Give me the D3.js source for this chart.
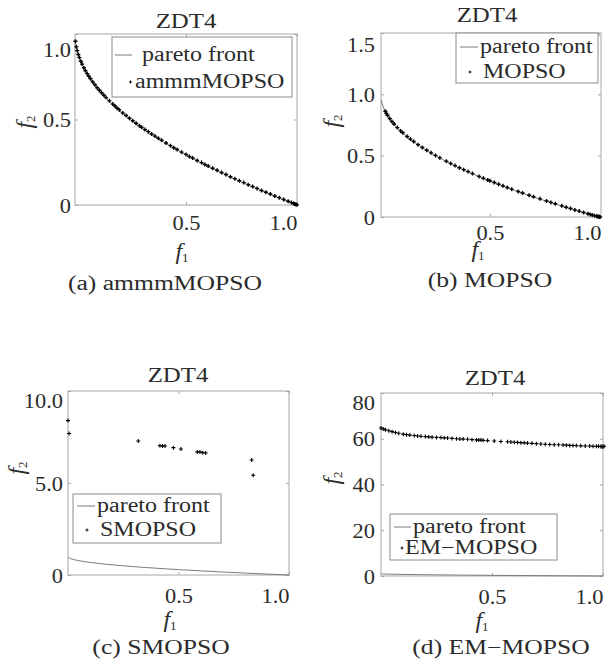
<!DOCTYPE html>
<html>
<head>
<meta charset="utf-8">
<script src="https://cdn.jsdelivr.net/npm/d3@7"></script>
<style>
  body { margin: 0; background: #fff; }
  text { font-family: "Liberation Serif", "Times New Roman", serif; fill: #2b2b2b; }
</style>
</head>
<body>
<script>
// ZDT4 true pareto front (sampled)
const frontF1 = [0.002, 0.005, 0.01, 0.02, 0.03, 0.05, 0.07, 0.1, 0.13, 0.17, 0.2, 0.25, 0.3, 0.35, 0.4, 0.45, 0.5, 0.6, 0.7, 0.8, 0.9, 1.0];
const frontF2 = [0.955, 0.929, 0.900, 0.859, 0.827, 0.776, 0.735, 0.684, 0.639, 0.588, 0.553, 0.500, 0.452, 0.408, 0.368, 0.329, 0.293, 0.225, 0.163, 0.106, 0.051, 0.0];

// (a) ammmMOPSO
const ammmF1 = [0.002,0.006,0.010,0.015,0.020,0.026,0.032,0.040,0.047,0.055,0.062,0.070,0.080,0.090,0.100,0.110,0.120,0.130,0.140,0.155,0.170,0.180,0.190,0.200,0.215,0.230,0.245,0.260,0.275,0.290,0.300,0.315,0.330,0.345,0.360,0.375,0.390,0.410,0.430,0.445,0.460,0.480,0.500,0.515,0.530,0.550,0.570,0.585,0.600,0.620,0.640,0.660,0.680,0.700,0.720,0.740,0.760,0.780,0.800,0.820,0.840,0.860,0.880,0.900,0.920,0.940,0.960,0.975,0.985,0.990,0.995,1.000];
const ammmF2 = [0.958,0.925,0.903,0.880,0.862,0.841,0.824,0.803,0.785,0.768,0.753,0.738,0.719,0.703,0.686,0.671,0.656,0.642,0.628,0.609,0.590,0.579,0.566,0.556,0.538,0.523,0.507,0.493,0.478,0.464,0.455,0.441,0.429,0.415,0.403,0.390,0.379,0.363,0.347,0.335,0.325,0.309,0.296,0.284,0.275,0.260,0.248,0.237,0.228,0.215,0.203,0.190,0.178,0.165,0.154,0.142,0.131,0.119,0.108,0.097,0.085,0.075,0.064,0.053,0.043,0.032,0.022,0.014,0.009,0.006,0.003,0.001];

// (b) MOPSO
const mopsoF1 = [0.020,0.025,0.030,0.040,0.050,0.060,0.075,0.090,0.100,0.120,0.135,0.150,0.170,0.190,0.210,0.230,0.250,0.270,0.300,0.320,0.340,0.360,0.380,0.400,0.420,0.450,0.470,0.490,0.500,0.520,0.540,0.560,0.580,0.600,0.630,0.650,0.680,0.700,0.730,0.760,0.780,0.800,0.830,0.850,0.870,0.890,0.910,0.930,0.950,0.960,0.970,0.980,0.990,1.000,0.995,1.003,1.006];
const mopsoF2 = [0.862,0.845,0.829,0.803,0.778,0.758,0.729,0.702,0.687,0.656,0.635,0.616,0.590,0.567,0.544,0.523,0.502,0.482,0.455,0.436,0.419,0.402,0.386,0.370,0.354,0.331,0.316,0.302,0.295,0.281,0.267,0.254,0.240,0.227,0.208,0.196,0.177,0.165,0.148,0.130,0.119,0.108,0.091,0.080,0.069,0.058,0.048,0.037,0.026,0.021,0.016,0.011,0.006,0.002,0.004,0.001,0.000];

// (c) SMOPSO
const smopsoF1 = [0.000,0.005,0.318,0.416,0.428,0.439,0.477,0.511,0.585,0.597,0.610,0.623,0.831,0.838];
const smopsoF2 = [8.39,7.69,7.28,7.03,7.01,7.01,6.92,6.85,6.69,6.69,6.65,6.63,6.25,5.42];

// (d) EM-MOPSO
const emF1 = [0.0,0.01,0.02,0.035,0.05,0.065,0.08,0.1,0.115,0.13,0.15,0.165,0.18,0.2,0.215,0.23,0.25,0.27,0.285,0.3,0.32,0.34,0.355,0.37,0.39,0.41,0.43,0.44,0.45,0.46,0.48,0.51,0.54,0.57,0.585,0.6,0.615,0.63,0.645,0.66,0.68,0.7,0.72,0.74,0.76,0.78,0.8,0.82,0.835,0.85,0.865,0.88,0.9,0.92,0.94,0.955,0.97,0.98,0.99,0.995,1.0,1.005];
const emF2 = [64.7,64.3,63.9,63.5,63.1,62.7,62.4,62.0,61.8,61.6,61.4,61.2,61.1,60.95,60.8,60.7,60.6,60.5,60.4,60.3,60.15,60.0,59.9,59.85,59.75,59.6,59.5,59.45,59.4,59.3,59.2,59.0,58.8,58.7,58.6,58.5,58.4,58.3,58.2,58.1,58.0,57.85,57.7,57.6,57.5,57.4,57.35,57.25,57.2,57.1,57.05,57.0,56.9,56.85,56.8,56.75,56.7,56.7,56.6,56.6,56.5,56.7];

// Names and ticks
const problem = "ZDT4";
const algorithms = ["ammmMOPSO", "MOPSO", "SMOPSO", "EM\u2212MOPSO"];
const panelLetters = ["a", "b", "c", "d"];
const xTicks = [0.5, 1.0];
const yTicksA = [0, 0.5, 1.0];
const yTicksB = [0, 0.5, 1.0, 1.5];
const yTicksC = [0, 5, 10];
const yTicksD = [0, 20, 40, 60, 80];
const xMaxes = [1.0, 1.01, 1.0, 1.0];
const yMaxes = [1.0, 1.5, 10, 80];

// Layout of each panel (pixels)
const fmtDec = (d) => (d === 0 ? "0" : d3.format(".1f")(d));
const fmtInt = d3.format("d");
const panels = [
    { f1: ammmF1, f2: ammmF2, yTicks: yTicksA, yFmt: fmtDec,
      box: [75, 34, 297, 205], title: [186, 28], xLab: 230, f1Lab: [182, 259], cap: [165, 290],
      yLabEnd: 71, f2Lab: [24, 122], topShift: 15,
      leg: { box: [112, 37, 292, 97], r1: 55, line: [115, 132], t1: 142, r2: 82, mk: 130.5, t2: 135 } },
    { f1: mopsoF1, f2: mopsoF2, yTicks: yTicksB, yFmt: fmtDec,
      box: [381, 33, 601, 217], title: [487, 22], xLab: 240, f1Lab: [478, 257], cap: [490, 287],
      yLabEnd: 375, f2Lab: [331, 121], topShift: 11,
      leg: { box: [456, 33, 598, 83], r1: 47, line: [460, 478], t1: 480, r2: 72, mk: 470, t2: 483 } },
    { f1: smopsoF1, f2: smopsoF2, yTicks: yTicksC, yFmt: fmtDec,
      box: [68, 391, 289, 575], title: [178, 382], xLab: 603, f1Lab: [170, 627], cap: [161, 654],
      yLabEnd: 63, f2Lab: [16, 468], topShift: 9,
      leg: { box: [73, 494, 221, 543], r1: 506, line: [77, 95], t1: 97, r2: 530, mk: 87, t2: 100 } },
    { f1: emF1, f2: emF2, yTicks: yTicksD, yFmt: fmtInt,
      box: [381, 393, 603, 576], title: [495, 385], xLab: 604, f1Lab: [482, 628], cap: [501, 654],
      yLabEnd: 375, f2Lab: [331, 478], topShift: 9,
      leg: { box: [390, 514, 557, 560], r1: 527, line: [394, 411], t1: 413, r2: 548, mk: 402, t2: 405 } }
];

// Stretch text horizontally (reference font is wide)
function widen(sel, k) {
    sel.each(function () {
        const w = this.getComputedTextLength();
        d3.select(this).attr("textLength", w * k).attr("lengthAdjust", "spacingAndGlyphs");
    });
}

const plus = "M-2,0H2M0,-2V2";
const boxColor = "#a6a6a6";

const svg = d3.select("body").append("svg")
    .attr("width", 616)
    .attr("height", 669);

panels.forEach((p, i) => {
    const [x0, y0, x1, y1] = p.box;
    const x = d3.scaleLinear().domain([0, xMaxes[i]]).range([x0, x1]);
    const y = d3.scaleLinear().domain([0, yMaxes[i]]).range([y1, y0]);
    const g = svg.append("g");

    // Axes: inward ticks on all four sides
    const styleAxis = (a) => {
        a.select(".domain").remove();
        a.selectAll(".tick line").attr("stroke", boxColor);
        a.attr("font-family", null).attr("font-size", null);
        a.selectAll("text").attr("fill", "#2b2b2b").style("font-size", "20px");
    };
    const xb = g.append("g").attr("transform", `translate(0,${y1})`)
        .call(d3.axisBottom(x).tickValues(xTicks).tickSize(-3).tickFormat(d3.format(".1f")))
        .call(styleAxis);
    xb.selectAll("text").attr("dy", null).attr("y", p.xLab - y1)
        .filter((d) => d === 1.0).attr("text-anchor", "end").attr("x", x1 - x(1.0));
    widen(xb.selectAll("text"), 1.12);
    g.append("g").attr("transform", `translate(0,${y0})`)
        .call(d3.axisTop(x).tickValues(xTicks).tickSize(-3).tickFormat(""))
        .call(styleAxis);
    const yl = g.append("g").attr("transform", `translate(${x0},0)`)
        .call(d3.axisLeft(y).tickValues(p.yTicks).tickSize(-3).tickPadding(x0 - p.yLabEnd).tickFormat(p.yFmt))
        .call(styleAxis);
    yl.selectAll("text").attr("dy", null)
        .attr("y", (d) => 7 + (d === yMaxes[i] ? p.topShift : 0));
    widen(yl.selectAll("text"), 1.12);
    g.append("g").attr("transform", `translate(${x1},0)`)
        .call(d3.axisRight(y).tickValues(p.yTicks).tickSize(-3).tickFormat(""))
        .call(styleAxis);

    // Box
    g.append("rect")
        .attr("x", x0).attr("y", y0)
        .attr("width", x1 - x0).attr("height", y1 - y0)
        .attr("fill", "none").attr("stroke", boxColor);

    // Pareto front
    const front = frontF1.map((v, j) => [v, frontF2[j]]);
    g.append("path")
        .datum(front)
        .attr("fill", "none")
        .attr("stroke", "#7a7a7a")
        .attr("stroke-width", 1)
        .attr("d", d3.line().x((d) => x(d[0])).y((d) => y(d[1])).curve(d3.curveMonotoneX));

    // Obtained solutions
    g.append("g").selectAll("path")
        .data(p.f1.map((v, j) => [v, p.f2[j]]))
        .join("path")
        .attr("d", plus)
        .attr("transform", (d) => `translate(${x(d[0])},${y(d[1])})`)
        .attr("stroke", "#000")
        .attr("stroke-width", i < 2 ? 1.4 : 1.1)
        .attr("fill", "none");

    // Legend
    const L = p.leg;
    g.append("rect")
        .attr("x", L.box[0]).attr("y", L.box[1])
        .attr("width", L.box[2] - L.box[0]).attr("height", L.box[3] - L.box[1])
        .attr("fill", "#fff").attr("stroke", "#8c8c8c");
    g.append("line")
        .attr("x1", L.line[0]).attr("x2", L.line[1])
        .attr("y1", L.r1).attr("y2", L.r1)
        .attr("stroke", "#7a7a7a");
    g.append("path")
        .attr("d", "M-1.5,0H1.5M0,-1.5V1.5")
        .attr("transform", `translate(${L.mk},${L.r2})`)
        .attr("stroke", "#111");
    const lt = g.selectAll(".legtext")
        .data([["pareto front", L.t1, L.r1], [algorithms[i], L.t2, L.r2]])
        .join("text")
        .attr("x", (d) => d[1])
        .attr("y", (d) => d[2] + 6)
        .style("font-size", "20px")
        .text((d) => d[0]);
    widen(lt, 1.2);

    // Title
    const t = g.append("text")
        .attr("x", p.title[0]).attr("y", p.title[1])
        .attr("text-anchor", "middle")
        .style("font-size", "20px")
        .text(problem);
    widen(t, 1.24);

    // Axis labels
    const fx = g.append("text")
        .attr("x", p.f1Lab[0]).attr("y", p.f1Lab[1])
        .attr("text-anchor", "middle")
        .style("font-size", "24px");
    fx.append("tspan").style("font-style", "italic").text("f");
    fx.append("tspan").attr("dy", 3).style("font-size", "13px").text("1");

    const fy = g.append("text")
        .attr("transform", `translate(${p.f2Lab[0] + 8},${p.f2Lab[1]}) rotate(-90)`)
        .attr("text-anchor", "middle")
        .style("font-size", "24px");
    fy.append("tspan").style("font-style", "italic").text("f");
    fy.append("tspan").attr("dy", 3).style("font-size", "13px").text("2");

    // Caption
    const c = g.append("text")
        .attr("x", p.cap[0]).attr("y", p.cap[1])
        .attr("text-anchor", "middle")
        .style("font-size", "20px")
        .text(`(${panelLetters[i]}) ${algorithms[i]}`);
    widen(c, 1.28);
});
</script>
</body>
</html>
